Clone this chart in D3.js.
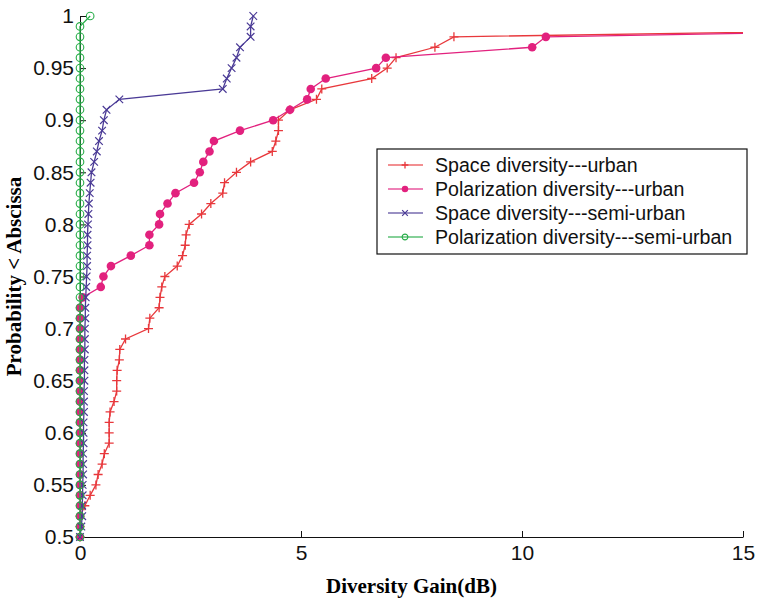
<!DOCTYPE html>
<html>
<head>
<meta charset="utf-8">
<script src="https://cdn.jsdelivr.net/npm/d3@7"></script>
<style>
  body { margin: 0; background: #fff; }
  svg { display: block; }
</style>
</head>
<body>
<svg id="cdf-chart" width="757" height="598"></svg>
<script>
// probability levels (y values shared by all four curves)
const probability = [0.50, 0.51, 0.52, 0.53, 0.54, 0.55, 0.56, 0.57, 0.58, 0.59,
    0.60, 0.61, 0.62, 0.63, 0.64, 0.65, 0.66, 0.67, 0.68, 0.69,
    0.70, 0.71, 0.72, 0.73, 0.74, 0.75, 0.76, 0.77, 0.78, 0.79,
    0.80, 0.81, 0.82, 0.83, 0.84, 0.85, 0.86, 0.87, 0.88, 0.89,
    0.90, 0.91, 0.92, 0.93, 0.94, 0.95, 0.96, 0.97, 0.98, 0.99, 1.00];

// diversity gain (dB) read for each probability level
const spaceUrban = [0, 0, 0, 0.11, 0.23, 0.36, 0.41, 0.50, 0.55, 0.66,
    0.66, 0.66, 0.68, 0.77, 0.83, 0.83, 0.84, 0.89, 0.90, 1.03,
    1.55, 1.58, 1.79, 1.81, 1.85, 1.92, 2.20, 2.32, 2.38, 2.40,
    2.47, 2.75, 2.96, 3.23, 3.27, 3.54, 3.86, 4.35, 4.43, 4.49,
    4.49, 4.75, 5.35, 5.47, 6.60, 6.95, 7.15, 8.03, 8.46, 23.5, 26.0];
const polUrban = [0, 0, 0, 0, 0, 0, 0, 0, 0, 0,
    0, 0, 0, 0, 0, 0, 0, 0, 0, 0,
    0, 0, 0, 0.06, 0.47, 0.53, 0.70, 1.15, 1.57, 1.57,
    1.79, 1.81, 1.98, 2.16, 2.58, 2.71, 2.79, 2.93, 3.03, 3.62,
    4.37, 4.75, 5.14, 5.22, 5.56, 6.70, 6.92, 10.23, 10.54, 23.6, 26.0];
const spaceSemi = [0, 0.03, 0.05, 0.05, 0.06, 0.06, 0.07, 0.07, 0.07, 0.08,
    0.08, 0.08, 0.09, 0.09, 0.09, 0.10, 0.10, 0.10, 0.11, 0.11,
    0.11, 0.12, 0.12, 0.13, 0.14, 0.15, 0.16, 0.16, 0.17, 0.17,
    0.18, 0.19, 0.20, 0.22, 0.24, 0.26, 0.32, 0.38, 0.43, 0.50,
    0.54, 0.60, 0.89, 3.23, 3.32, 3.43, 3.54, 3.62, 3.86, 3.86, 3.92];
const polSemi = [0, 0, 0, 0, 0, 0, 0, 0, 0, 0,
    0, 0, 0, 0, 0, 0, 0, 0, 0, 0,
    0, 0, 0, 0, 0, 0, 0, 0, 0, 0,
    0, 0, 0, 0, 0, 0, 0, 0, 0, 0,
    0, 0, 0, 0, 0, 0, 0, 0, 0, 0, 0.23];

const seriesNames = ["Space diversity---urban", "Polarization diversity---urban",
    "Space diversity---semi-urban", "Polarization diversity---semi-urban"];
const seriesColors = ["#e8383c", "#e2217e", "#4a3a96", "#27ad48"];
const seriesMarkers = ["plus", "dot", "cross", "circle"];

const xTicks = [0, 5, 10, 15];
const yTicks = [0.5, 0.55, 0.6, 0.65, 0.7, 0.75, 0.8, 0.85, 0.9, 0.95, 1];
const yTickLabels = ["0.5", "0.55", "0.6", "0.65", "0.7", "0.75", "0.8", "0.85", "0.9", "0.95", "1"];

function drawChart() {
    const svg = d3.select("#cdf-chart");
    const margin = { left: 80, right: 14, top: 16, bottom: 61 };
    const width = +svg.attr("width"), height = +svg.attr("height");
    const x = d3.scaleLinear().domain([0, 15]).range([margin.left, width - margin.right]);
    const y = d3.scaleLinear().domain([0.5, 1]).range([height - margin.bottom, margin.top]);

    svg.append("defs").append("clipPath").attr("id", "plot-clip").append("rect")
        .attr("x", margin.left - 6).attr("y", margin.top - 6)
        .attr("width", width - margin.left - margin.right + 6).attr("height", height - margin.top - margin.bottom + 12);

    // axes: ticks point inward like a matlab plot
    const xAxis = d3.axisBottom(x).tickValues(xTicks).tickSizeInner(-6).tickSizeOuter(0).tickPadding(8);
    const yAxis = d3.axisLeft(y).tickValues(yTicks).tickSizeInner(-6).tickSizeOuter(0).tickPadding(6)
        .tickFormat((d, i) => yTickLabels[i]);
    const gx = svg.append("g").attr("transform", `translate(0,${height - margin.bottom})`).call(xAxis);
    const gy = svg.append("g").attr("transform", `translate(${margin.left},0)`).call(yAxis);
    [gx, gy].forEach(g => {
        g.selectAll("path, line").attr("stroke", "#111").attr("stroke-width", 1);
        g.selectAll("text").attr("fill", "#111").style("font-family", "'Liberation Sans', Arial, sans-serif").style("font-size", "21px");
    });

    const seriesValues = [spaceUrban, polUrban, spaceSemi, polSemi];
    const line = d3.line().x(d => x(d[0])).y(d => y(d[1]));
    const plot = svg.append("g").attr("clip-path", "url(#plot-clip)");

    seriesValues.forEach((vals, s) => {
        const pts = vals.map((v, i) => [v, probability[i]]);
        plot.append("path").datum(pts).attr("fill", "none").attr("stroke", seriesColors[s])
            .attr("stroke-width", 1.3).attr("d", line);
        const marks = plot.append("g").selectAll("g").data(pts).enter().append("g")
            .attr("transform", d => `translate(${x(d[0])},${y(d[1])})`);
        drawMarker(marks, seriesMarkers[s], seriesColors[s]);
    });

    // legend box
    const legend = svg.append("g").attr("transform", "translate(377,149)");
    legend.append("rect").attr("width", 370).attr("height", 105).attr("fill", "#fff")
        .attr("stroke", "#111").attr("stroke-width", 1.2);
    seriesNames.forEach((name, i) => {
        const row = legend.append("g").attr("transform", `translate(0,${16 + i * 24})`);
        row.append("line").attr("x1", 11).attr("x2", 46).attr("stroke", seriesColors[i]).attr("stroke-width", 1.3).attr("opacity", 0.75);
        const m = row.append("g").attr("transform", "translate(28,0)");
        drawMarker(m, seriesMarkers[i], seriesColors[i], 0.75);
        row.append("text").attr("x", 58).attr("y", 7).text(name).attr("fill", "#111")
            .style("font-family", "'Liberation Sans', Arial, sans-serif").style("font-size", "19.6px");
    });

    // axis titles
    svg.append("text").attr("x", (margin.left + width - margin.right) / 2).attr("y", 593).attr("text-anchor", "middle")
        .text("Diversity Gain(dB)").style("font-family", "'Liberation Serif', 'Times New Roman', serif")
        .style("font-weight", "bold").style("font-size", "21px");
    svg.append("text").attr("transform", `translate(21,${(margin.top + height - margin.bottom) / 2}) rotate(-90)`)
        .attr("text-anchor", "middle").text("Probability < Abscissa")
        .style("font-family", "'Liberation Serif', 'Times New Roman', serif")
        .style("font-weight", "bold").style("font-size", "21px");
}

// Draws one marker shape into every element of a selection
function drawMarker(sel, kind, color, k = 1) {
    if (kind == "plus") {
        sel.append("path").attr("d", `M${-4.5 * k},0H${4.5 * k}M0,${-4.5 * k}V${4.5 * k}`).attr("stroke", color).attr("stroke-width", 1.3);
    } else if (kind == "cross") {
        sel.append("path").attr("d", `M${-3.8 * k},${-3.8 * k}L${3.8 * k},${3.8 * k}M${-3.8 * k},${3.8 * k}L${3.8 * k},${-3.8 * k}`)
            .attr("stroke", color).attr("stroke-width", 1.2);
    } else if (kind == "dot") {
        sel.append("circle").attr("r", 4.3 * k).attr("fill", color);
    } else {
        sel.append("circle").attr("r", 3.8 * k).attr("fill", "none").attr("stroke", color).attr("stroke-width", 1.1);
    }
}

drawChart();
</script>
</body>
</html>
